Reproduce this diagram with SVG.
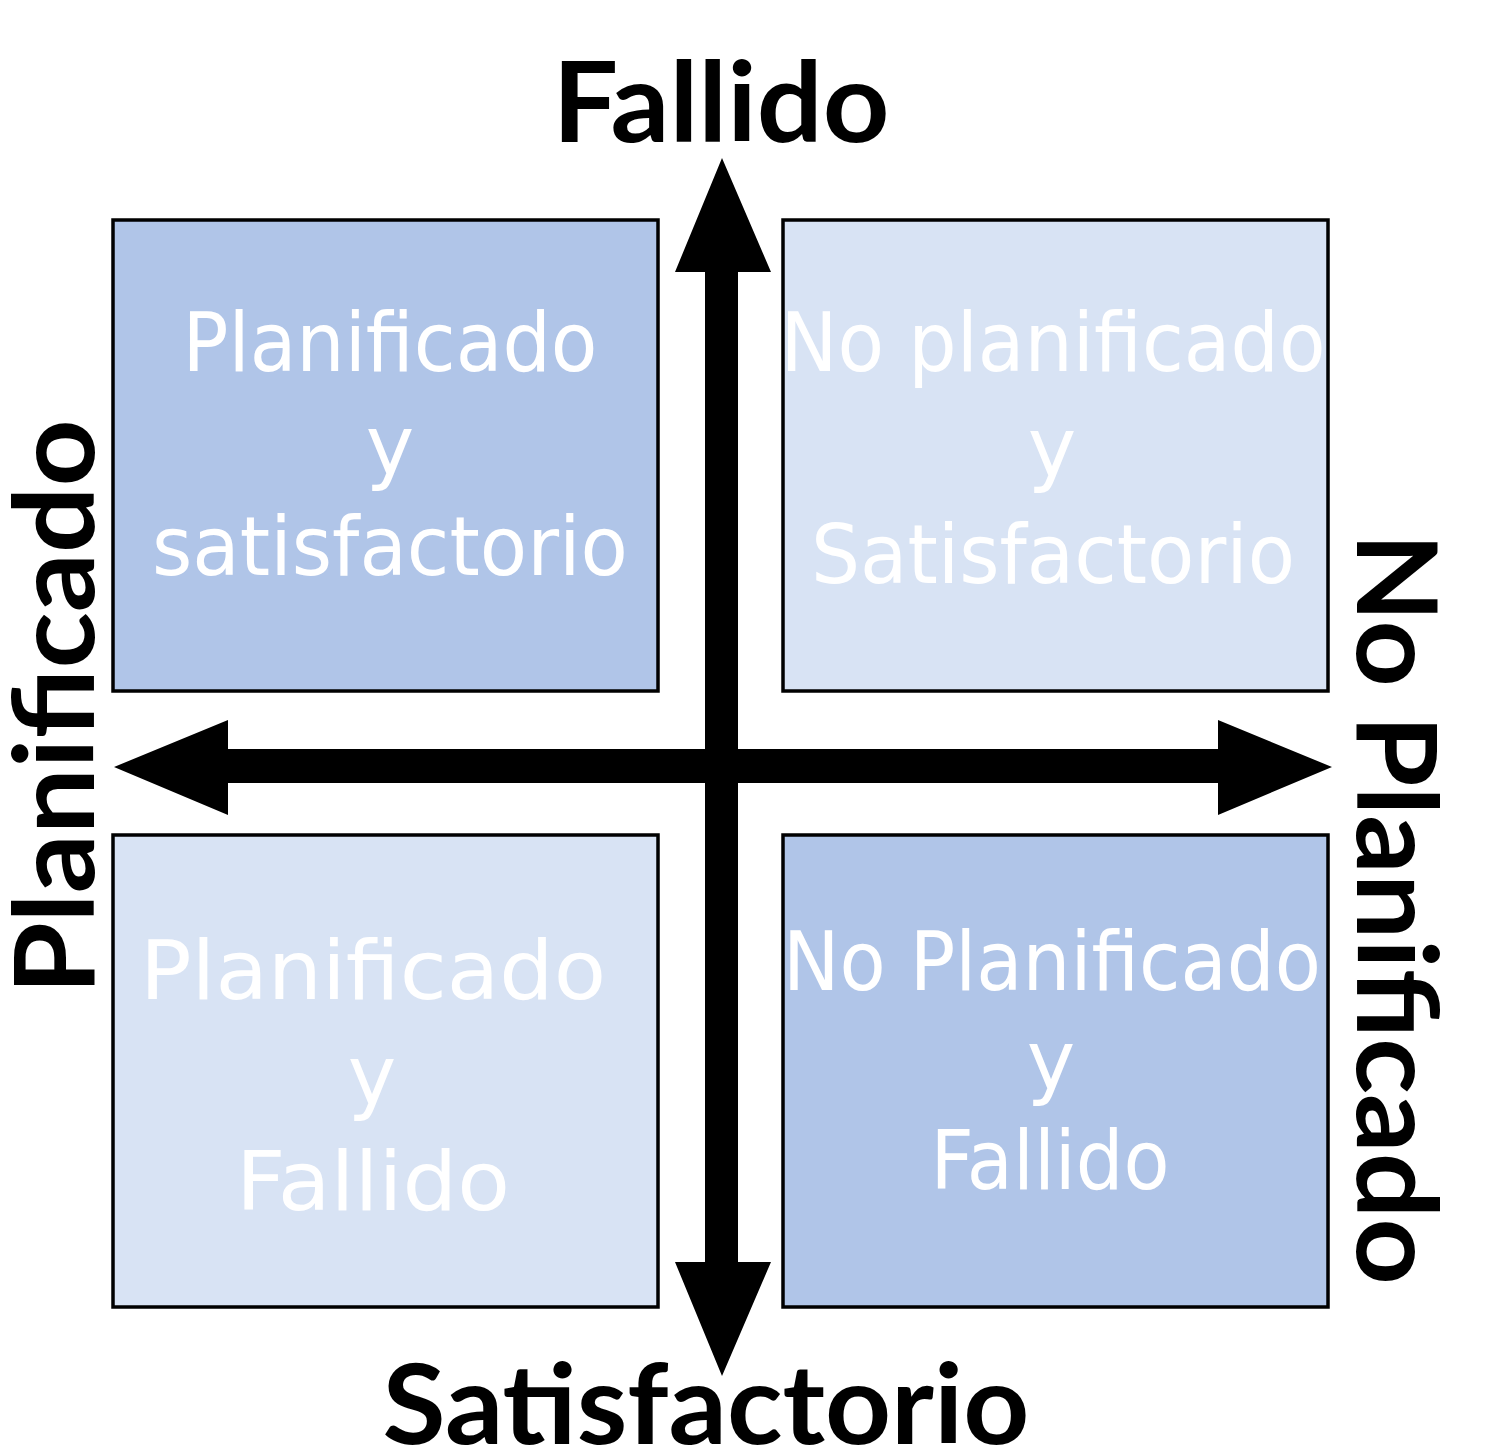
<svg xmlns="http://www.w3.org/2000/svg" width="1509" height="1451" viewBox="0 0 1509 1451">
<style>
.box{stroke:#000;stroke-width:3.5}
.dark{fill:#B0C5E8}
.light{fill:#D8E3F4}
.in{font-family:"DejaVu Sans","Verdana",sans-serif;font-size:82px;fill:#fff;text-anchor:middle}
.lbl{font-family:Lato,"Open Sans",sans-serif;font-weight:700;font-size:112px;fill:#000;text-anchor:middle}
.arr{fill:#000}
</style>
<rect width="1509" height="1451" fill="#fff"/>
<g id="q-tl">
<rect class="box dark" x="113" y="220" width="545" height="471"/>
<text class="in" x="390" y="371" textLength="415" lengthAdjust="spacingAndGlyphs">Planificado</text>
<text class="in" x="390" y="474">y</text>
<text class="in" x="390" y="575" textLength="476" lengthAdjust="spacingAndGlyphs">satisfactorio</text>
</g>
<g id="q-tr">
<rect class="box light" x="783" y="220" width="545" height="471"/>
<text class="in" x="1053" y="371" textLength="545" lengthAdjust="spacingAndGlyphs">No planificado</text>
<text class="in" x="1052" y="476">y</text>
<text class="in" x="1053" y="583" textLength="484" lengthAdjust="spacingAndGlyphs">Satisfactorio</text>
</g>
<g id="q-bl">
<rect class="box light" x="113" y="835" width="545" height="472"/>
<text class="in" x="373" y="999" textLength="466" lengthAdjust="spacingAndGlyphs">Planificado</text>
<text class="in" x="372" y="1104">y</text>
<text class="in" x="373" y="1210" textLength="274" lengthAdjust="spacingAndGlyphs">Fallido</text>
</g>
<g id="q-br">
<rect class="box dark" x="783" y="835" width="545" height="472"/>
<text class="in" x="1052" y="990" textLength="538" lengthAdjust="spacingAndGlyphs">No Planificado</text>
<text class="in" x="1051" y="1089">y</text>
<text class="in" x="1050" y="1189" textLength="239" lengthAdjust="spacingAndGlyphs">Fallido</text>
</g>
<g id="connectors">
<polygon class="arr" points="722,158 771,272 738,272 738,1262 771,1262 722,1376 675,1262 705,1262 705,272 675,272"/>
<polygon class="arr" points="114,767 228,720 228,749 1218,749 1218,720 1332,767 1218,815 1218,783 228,783 228,815"/>
</g>
<g id="label-top"><text class="lbl" x="721" y="142" textLength="337" lengthAdjust="spacingAndGlyphs">Fallido</text></g>
<g id="label-bottom"><text class="lbl" x="706" y="1444" textLength="647" lengthAdjust="spacingAndGlyphs">Satisfactorio</text></g>
<g id="label-left"><text class="lbl" transform="translate(94,707) rotate(-90)" x="0" y="0" textLength="575" lengthAdjust="spacingAndGlyphs">Planificado</text></g>
<g id="label-right"><text class="lbl" transform="translate(1357,909) rotate(90)" x="0" y="0" textLength="752" lengthAdjust="spacingAndGlyphs">No Planificado</text></g>
</svg>
